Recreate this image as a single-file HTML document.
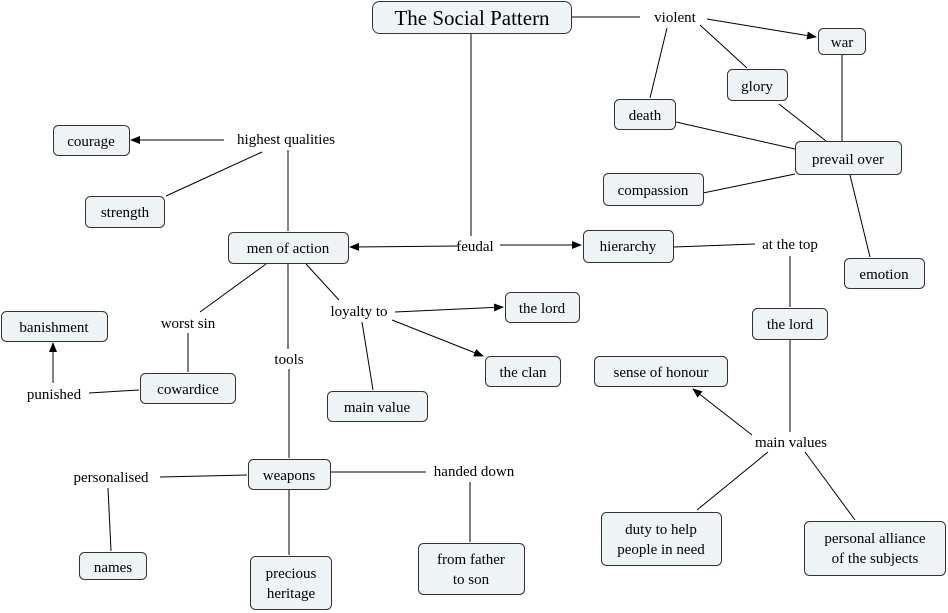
<!DOCTYPE html>
<html><head><meta charset="utf-8"><style>
html,body{margin:0;padding:0;background:#fff;}
svg{display:block;}
text{font-family:"Liberation Serif",serif;font-size:15px;fill:#000;}
rect{fill:#eef3f6;stroke:#333;stroke-width:1;}
line{stroke:#000;stroke-width:1;}
</style></head><body>
<svg width="948" height="613" viewBox="0 0 948 613" xmlns="http://www.w3.org/2000/svg">
<defs><marker id="a" markerWidth="10" markerHeight="10" refX="9" refY="4" orient="auto" markerUnits="userSpaceOnUse"><path d="M0,0 L10,4 L0,8 z" fill="#000"/></marker></defs>
<g>
<line x1="571" y1="17" x2="640" y2="17"/>
<line x1="707" y1="19" x2="816" y2="37" marker-end="url(#a)"/>
<line x1="700" y1="25" x2="747" y2="68"/>
<line x1="667" y1="28" x2="650" y2="98"/>
<line x1="779" y1="104" x2="826" y2="141"/>
<line x1="842" y1="55" x2="842" y2="141"/>
<line x1="676" y1="122" x2="795" y2="149"/>
<line x1="703" y1="193" x2="795" y2="174"/>
<line x1="850" y1="175" x2="870" y2="257"/>
<line x1="471" y1="34" x2="471" y2="236"/>
<line x1="458" y1="246" x2="350" y2="247" marker-end="url(#a)"/>
<line x1="500" y1="245" x2="581" y2="245" marker-end="url(#a)"/>
<line x1="674" y1="247" x2="755" y2="244"/>
<line x1="790" y1="256" x2="790" y2="307"/>
<line x1="790" y1="340" x2="790" y2="432"/>
<line x1="752" y1="435" x2="693" y2="389" marker-end="url(#a)"/>
<line x1="768" y1="452" x2="697" y2="510"/>
<line x1="805" y1="452" x2="855" y2="520"/>
<line x1="224" y1="140" x2="131" y2="140" marker-end="url(#a)"/>
<line x1="262" y1="152" x2="166" y2="196"/>
<line x1="288" y1="150" x2="288" y2="231"/>
<line x1="266" y1="264" x2="200" y2="312"/>
<line x1="288" y1="264" x2="288" y2="349"/>
<line x1="306" y1="264" x2="339" y2="300"/>
<line x1="188" y1="333" x2="188" y2="372"/>
<line x1="139" y1="390" x2="89" y2="393"/>
<line x1="53" y1="383" x2="53" y2="343" marker-end="url(#a)"/>
<line x1="395" y1="312" x2="503" y2="307" marker-end="url(#a)"/>
<line x1="392" y1="320" x2="483" y2="356" marker-end="url(#a)"/>
<line x1="362" y1="322" x2="373" y2="390"/>
<line x1="289" y1="369" x2="289" y2="458"/>
<line x1="247" y1="475" x2="160" y2="477"/>
<line x1="331" y1="472" x2="426" y2="472"/>
<line x1="108" y1="488" x2="111" y2="551"/>
<line x1="289" y1="490" x2="289" y2="555"/>
<line x1="470" y1="482" x2="470" y2="542"/>
</g>
<g>
<rect x="372.5" y="1.5" width="199" height="32" rx="7"/>
<rect x="818.5" y="28.5" width="47" height="26" rx="5"/>
<rect x="727.5" y="69.5" width="60" height="31" rx="5"/>
<rect x="614.5" y="99.5" width="61" height="30" rx="5"/>
<rect x="795.5" y="141.5" width="106" height="33" rx="5"/>
<rect x="603.5" y="173.5" width="100" height="32" rx="5"/>
<rect x="844.5" y="258.5" width="80" height="30" rx="5"/>
<rect x="53.5" y="125.5" width="76" height="30" rx="5"/>
<rect x="85.5" y="196.5" width="79" height="31" rx="5"/>
<rect x="228.5" y="232.5" width="120" height="31" rx="5"/>
<rect x="583.5" y="230.5" width="90" height="32" rx="5"/>
<rect x="752.5" y="308.5" width="75" height="31" rx="5"/>
<rect x="505.5" y="292.5" width="74" height="30" rx="5"/>
<rect x="485.5" y="356.5" width="75" height="30" rx="5"/>
<rect x="1.5" y="311.5" width="106" height="30" rx="5"/>
<rect x="140.5" y="373.5" width="95" height="30" rx="5"/>
<rect x="327.5" y="391.5" width="100" height="30" rx="5"/>
<rect x="594.5" y="356.5" width="133" height="30" rx="5"/>
<rect x="248.5" y="459.5" width="82" height="30" rx="5"/>
<rect x="79.5" y="552.5" width="67" height="27" rx="5"/>
<rect x="250.5" y="556.5" width="81" height="53" rx="5"/>
<rect x="418.5" y="543.5" width="106" height="51" rx="5"/>
<rect x="601.5" y="512.5" width="120" height="53" rx="5"/>
<rect x="804.5" y="521.5" width="141" height="54" rx="5"/>
</g>
<g text-anchor="middle">
<text x="472" y="25" style="font-size:21px">The Social Pattern</text>
<text x="842" y="47">war</text>
<text x="757" y="91">glory</text>
<text x="645" y="120">death</text>
<text x="848" y="164">prevail over</text>
<text x="653" y="195">compassion</text>
<text x="884" y="279">emotion</text>
<text x="91" y="146">courage</text>
<text x="125" y="217">strength</text>
<text x="288" y="253">men of action</text>
<text x="628" y="251">hierarchy</text>
<text x="790" y="329">the lord</text>
<text x="542" y="313">the lord</text>
<text x="523" y="377">the clan</text>
<text x="54" y="332">banishment</text>
<text x="188" y="394">cowardice</text>
<text x="377" y="412">main value</text>
<text x="661" y="377">sense of honour</text>
<text x="289" y="480">weapons</text>
<text x="113" y="572">names</text>
<text x="291" y="578">precious</text>
<text x="291" y="598">heritage</text>
<text x="471" y="564">from father</text>
<text x="471" y="584">to son</text>
<text x="661" y="534">duty to help</text>
<text x="661" y="554">people in need</text>
<text x="875" y="543">personal alliance</text>
<text x="875" y="563">of the subjects</text>
<text x="675" y="22">violent</text>
<text x="286" y="144">highest qualities</text>
<text x="475" y="251">feudal</text>
<text x="790" y="249">at the top</text>
<text x="188" y="328">worst sin</text>
<text x="359" y="316">loyalty to</text>
<text x="289" y="364">tools</text>
<text x="54" y="399">punished</text>
<text x="111" y="482">personalised</text>
<text x="474" y="476">handed down</text>
<text x="791" y="447">main values</text>
</g>
</svg>
</body></html>
